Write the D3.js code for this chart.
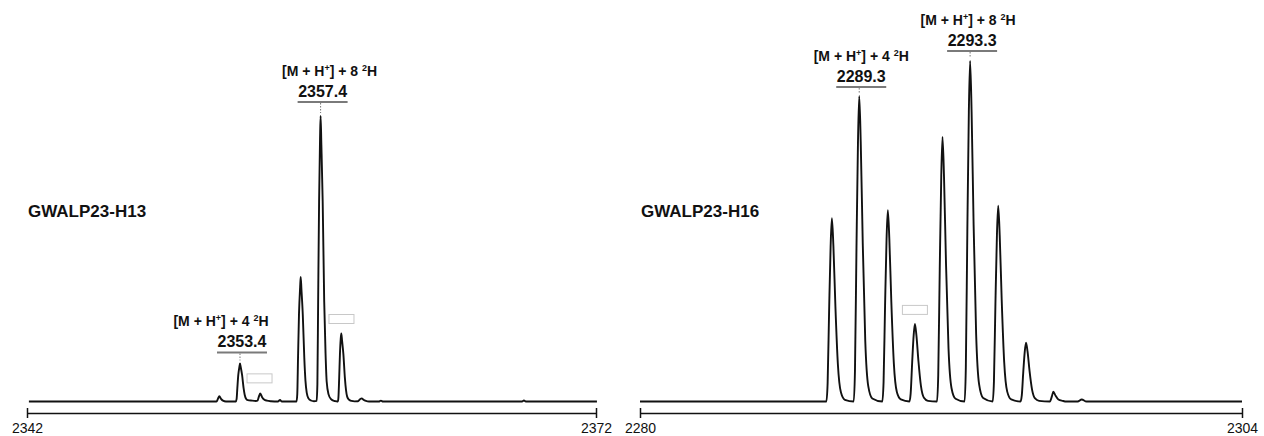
<!DOCTYPE html>
<html><head><meta charset="utf-8">
<script src="https://cdn.jsdelivr.net/npm/d3@7"></script>
<style>
body{margin:0;background:#fff}
svg{display:block}
text{font-family:Arial,"Liberation Sans",sans-serif}
</style>
</head><body>
<svg id="c" width="1264" height="436"></svg>
<script>
// ---------- DATA ----------
const leftTitle = "GWALP23-H13";
const rightTitle = "GWALP23-H16";
const leftTicks = [2342, 2372];
const rightTicks = [2280, 2304];

// spectrum traces [m/z, relative intensity %]
const leftTrace = [
  [2342.10,0],
  [2351.99,0],[2352.07,1.0],[2352.14,1.9],[2352.23,0.9],[2352.33,0.3],[2352.49,0],
  [2353.01,0],[2353.05,0.8],[2353.09,4.7],[2353.14,9.3],[2353.20,12.2],[2353.23,13.3],[2353.27,12.0],[2353.34,9.3],[2353.42,4.7],[2353.48,2.3],[2353.55,1.0],[2353.64,0.5],[2353.86,0.3],[2354.07,0.2],
  [2354.15,0.3],[2354.23,1.8],[2354.30,2.8],[2354.39,1.6],[2354.50,0.7],[2354.65,0.3],[2354.86,0.1],
  [2355.23,0],[2355.34,0.5],[2355.44,0],
  [2356.19,0],
  [2356.21,0],[2356.25,2.6],[2356.29,15.3],[2356.34,30.5],[2356.40,40.0],[2356.43,43.6],[2356.47,39.2],[2356.54,30.5],[2356.62,15.3],[2356.68,7.4],[2356.75,3.0],[2356.84,1.1],[2356.97,0.35],[2357.13,0.1],
  [2357.27,0.2],[2357.31,6],[2357.35,35],[2357.40,70],[2357.45,92],[2357.48,100],[2357.52,90],[2357.59,70],[2357.67,35],[2357.74,17],[2357.80,7],[2357.90,2.5],[2358.03,0.8],[2358.19,0.2],[2358.29,0.1],
  [2358.39,0],[2358.42,1.4],[2358.46,8.3],[2358.50,16.7],[2358.54,21.9],[2358.57,23.8],[2358.61,21.4],[2358.68,16.7],[2358.76,8.3],[2358.82,4.0],[2358.88,1.7],[2358.98,0.6],[2359.11,0.2],[2359.27,0.05],
  [2359.45,0.1],[2359.56,0.8],[2359.65,1.1],[2359.74,0.6],[2359.87,0.2],[2360.03,0],
  [2360.55,0],[2360.66,0.3],[2360.77,0],
  [2368.10,0],[2368.20,0.4],[2368.30,0],
  [2372.05,0]
];

const rightTrace = [
  [2280.00,0],[2287.40,0],
  [2287.43,0],[2287.48,5.4],[2287.54,26.9],[2287.60,45.7],[2287.65,53.8],[2287.71,45.7],[2287.79,28.0],[2287.89,10.8],[2288.01,2.7],[2288.17,0.5],
  [2288.52,0],[2288.57,9.0],[2288.63,44.9],[2288.69,76.2],[2288.74,89.7],[2288.80,76.2],[2288.88,46.6],[2288.98,17.9],[2289.10,4.5],[2289.26,0.9],
  [2289.66,0],[2289.71,5.6],[2289.77,28.1],[2289.83,47.8],[2289.88,56.2],[2289.94,47.8],[2290.02,29.2],[2290.12,11.2],[2290.24,2.8],[2290.40,0.6],
  [2290.74,0],[2290.79,2.3],[2290.85,11.4],[2290.91,19.4],[2290.96,22.8],[2291.02,19.4],[2291.10,11.9],[2291.20,4.6],[2291.32,1.1],[2291.48,0.2],
  [2291.84,0],[2291.89,7.8],[2291.95,38.9],[2292.01,66.0],[2292.06,77.7],[2292.12,66.0],[2292.20,40.4],[2292.30,15.5],[2292.42,3.9],[2292.58,0.8],
  [2292.94,0],[2292.99,10],[2293.05,50],[2293.11,85],[2293.16,100],[2293.22,85],[2293.30,52],[2293.40,20],[2293.52,5],[2293.68,1],
  [2294.06,0],[2294.11,5.8],[2294.17,28.8],[2294.23,48.9],[2294.28,57.5],[2294.34,48.9],[2294.42,29.9],[2294.52,11.5],[2294.64,2.9],[2294.80,0.6],
  [2295.17,0],[2295.22,1.7],[2295.28,8.7],[2295.34,14.7],[2295.39,17.3],[2295.45,14.7],[2295.53,9.0],[2295.63,3.5],[2295.75,0.9],[2295.91,0.2],
  [2296.34,0],[2296.42,1.5],[2296.48,2.9],[2296.56,1.8],[2296.68,0.6],[2296.85,0.2],[2297.00,0],
  [2297.45,0],[2297.61,0.6],[2297.80,0],
  [2304.00,0]
];

// annotations: isotope count, labelled mass, peak position [m/z, %]
const leftAnnotCount = ["4", "8"];
const leftAnnotMass = ["2353.4", "2357.4"];
const leftAnnotPeak = [[2353.23, 13.3], [2357.48, 100]];
const rightAnnotCount = ["4", "8"];
const rightAnnotMass = ["2289.3", "2293.3"];
const rightAnnotPeak = [[2288.74, 89.7], [2293.16, 100]];

// faint empty boxes present in the figure, centre [m/z, %]
const leftBoxes = [[2354.26, 8.1], [2358.58, 28.9]];
const rightBoxes = [[2290.96, 26.9]];

// ---------- LAYOUT ----------
const svg = d3.select("#c");
const axisY = 413;

const panels = [
  {trace: leftTrace, ticks: leftTicks, xr: [27, 596], yr: [401.5, 116], title: leftTitle,
   count: leftAnnotCount, mass: leftAnnotMass, peak: leftAnnotPeak, boxes: leftBoxes,
   gap: [11, 14], labelDx: [-21, 7]},
  {trace: rightTrace, ticks: rightTicks, xr: [640, 1242], yr: [401.5, 61], title: rightTitle,
   count: rightAnnotCount, mass: rightAnnotMass, peak: rightAnnotPeak, boxes: rightBoxes,
   gap: [9, 10], labelDx: [0, -4]}
];

panels.forEach(p => {
  const x = d3.scaleLinear().domain(d3.extent(p.ticks)).range(p.xr);
  const y = d3.scaleLinear().domain([0, 100]).range(p.yr);
  const g = svg.append("g");

  // boxes (faint)
  g.selectAll("rect.box").data(p.boxes).join("rect")
    .attr("class", "box")
    .attr("x", d => x(d[0]) - 12.5).attr("y", d => y(d[1]) - 4.5)
    .attr("width", 25).attr("height", 9)
    .attr("fill", "none").attr("stroke", "#c8c8c8").attr("stroke-width", 1);

  // spectrum
  const line = d3.line().x(d => x(d[0])).y(d => y(d[1])).curve(d3.curveMonotoneX);
  g.append("path").datum(p.trace)
    .attr("d", line).attr("fill", "none")
    .attr("stroke", "#111").attr("stroke-width", 1.9).attr("stroke-linejoin", "round");

  // axis
  const ax = g.append("g").attr("transform", `translate(0,${axisY})`)
    .call(d3.axisBottom(x).tickValues(p.ticks).tickSizeOuter(0).tickSizeInner(5).tickFormat(d3.format("d")));
  ax.select(".domain").attr("stroke", "#111").attr("stroke-width", 1.5);
  ax.selectAll(".tick line").attr("y1", -5).attr("y2", 5).attr("stroke", "#111").attr("stroke-width", 1.5);
  ax.selectAll(".tick text").attr("y", 10).attr("dy", "0.71em")
    .attr("font-size", 14).attr("fill", "#111").attr("font-family", "Arial, 'Liberation Sans', sans-serif");

  // title
  g.append("text").attr("x", x(p.ticks[0]) + 1).attr("y", 217)
    .attr("font-size", 17).attr("font-weight", "bold").attr("fill", "#111").text(p.title);

  // annotations
  p.peak.forEach((pk, i) => {
    const px = x(pk[0]);
    const apex = y(pk[1]);
    const lineY = apex - p.gap[i];
    const cx = px + 2;
    g.append("line").attr("x1", px).attr("x2", px).attr("y1", lineY + 1).attr("y2", apex - 3)
      .attr("stroke", "#777").attr("stroke-width", 1).attr("stroke-dasharray", "1.5,1.5");
    g.append("line").attr("x1", cx - 25).attr("x2", cx + 25).attr("y1", lineY).attr("y2", lineY)
      .attr("stroke", "#7a7a7a").attr("stroke-width", 2);
    g.append("text").attr("x", cx).attr("y", lineY - 5.5).attr("text-anchor", "middle")
      .attr("font-size", 16).attr("font-weight", "bold").attr("fill", "#111").text(p.mass[i]);
    const t = g.append("text").attr("x", cx + p.labelDx[i]).attr("y", lineY - 26.5)
      .attr("text-anchor", "middle").attr("font-size", 14).attr("font-weight", "bold").attr("fill", "#111");
    t.append("tspan").text("[M + H");
    t.append("tspan").attr("font-size", 9).attr("dy", -5).text("+");
    t.append("tspan").attr("dy", 5).text("] + " + p.count[i] + " ");
    t.append("tspan").attr("font-size", 9).attr("dy", -5).text("2");
    t.append("tspan").attr("dy", 5).text("H");
  });
});
</script>
</body></html>
